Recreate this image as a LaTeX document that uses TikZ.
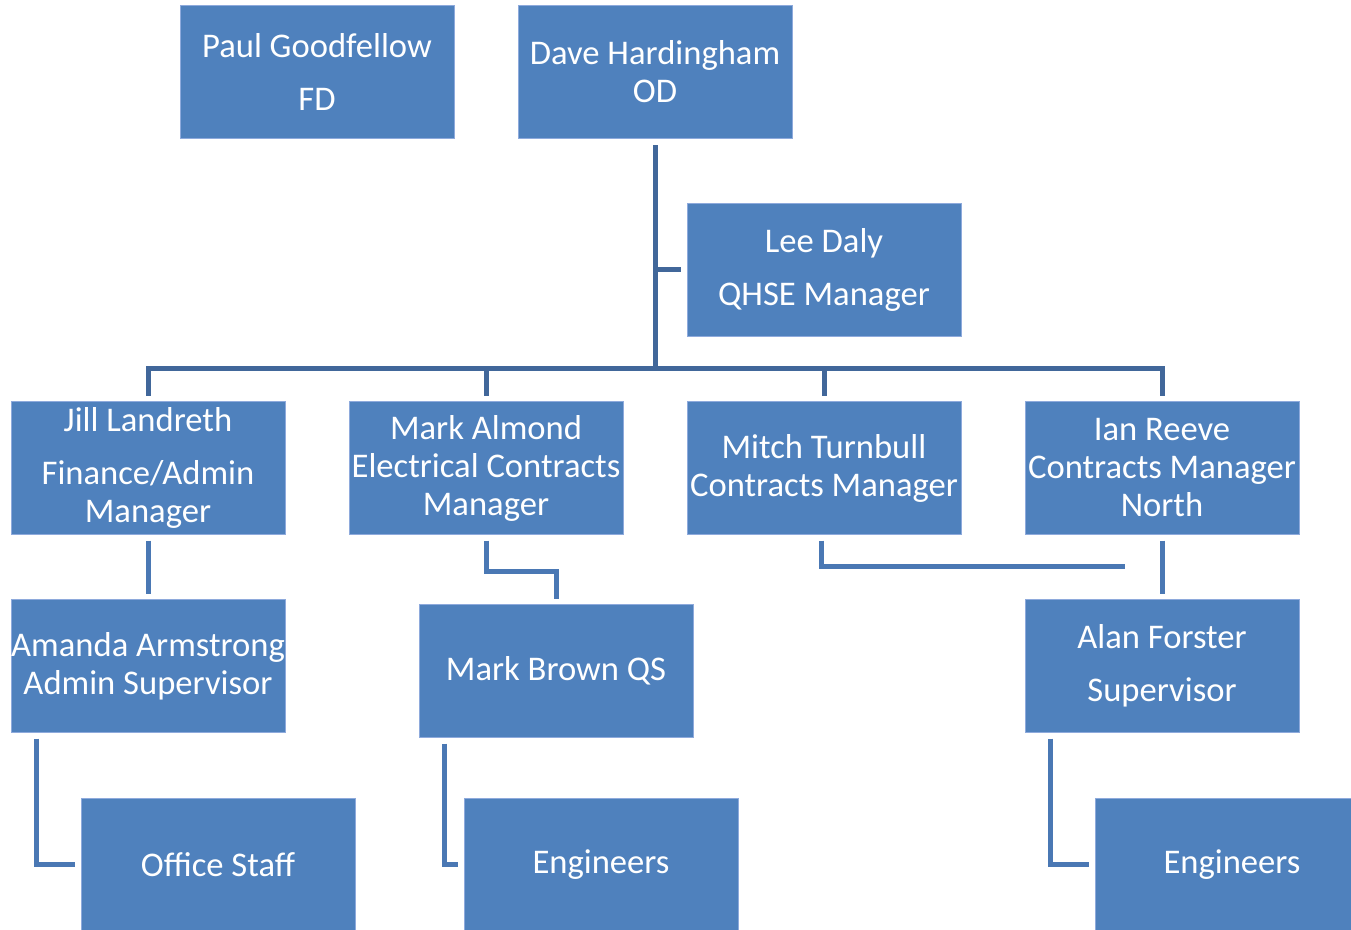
\documentclass[tikz,border=0pt]{standalone}
\usepackage{fontspec}
\setmainfont{Carlito}
\usetikzlibrary{positioning}
\definecolor{boxblue}{HTML}{4F81BD}
\definecolor{boxedge}{HTML}{8EAADC}
\definecolor{linkdark}{HTML}{41679A}
\definecolor{linklight}{HTML}{4A78B4}
\tikzset{
    person/.style = {
        rectangle,
        draw=boxedge,
        line width=0.8pt,
        fill=boxblue,
        text=white,
        minimum width=274pt,
        minimum height=133pt,
        inner sep=0pt,
        outer sep=0pt,
        align=center,
        font=\fontsize{34.6}{38}\selectfont
    },
    link/.style = {
        draw=linkdark,
        line width=5pt
    },
    sublink/.style = {
        draw=linklight,
        line width=5pt
    }
}

\begin{document}
\begin{tikzpicture}[
    x=1pt, y=-1pt,
    node distance=65pt and 64pt % grid spacing of the boxes
]
\clip (0,0) rectangle (1351,929);
\fill[white] (0,0) rectangle (1351,929);

% Directors
\node [person] (paul) at (317,71.5) {Paul Goodfellow\\[15pt]FD};
\node [person] (dave) at (655,71.5) {Dave Hardingham\\OD};
\node [person] (lee) at (824,269.5) {Lee Daly\\[15pt]QHSE Manager};

% Managers
\node [person] (jill) at (148,468) {Jill Landreth\\[15pt]Finance/Admin\\Manager};
\node [person, right=of jill] (almond) {Mark Almond\\Electrical Contracts\\Manager};
\node [person, right=of almond] (mitch) {Mitch Turnbull\\Contracts Manager};
\node [person, right=of mitch] (ian) {Ian Reeve\\Contracts Manager\\North};

% Supervisors
\node [person, below=of jill] (amanda) {Amanda Armstrong\\Admin Supervisor};
\node [person] (brown) at (556,671) {Mark Brown QS};
\node [person, below=of ian] (alan) {Alan Forster\\[15pt]Supervisor};

% Staff
\node [person] (office) at (218,864.5) {Office Staff};
\node [person] (engmid) at (601,864.5) {Engineers};
\node [person] (engright) at (1232,864.5) {Engineers};

% Top connections
\coordinate (hub) at (655,368);
\draw [link] ([yshift=-7pt]dave.south) -- (hub);
\draw [link] (dave.south |- lee.west) -- ([xshift=-6pt]lee.west);
\draw [link] ([yshift=6pt]jill.north) -- (jill.north |- hub) -- (ian.north |- hub) -- ([yshift=6pt]ian.north);
\draw [link] (almond.north |- hub) -- ([yshift=6pt]almond.north);
\draw [link] (mitch.north |- hub) -- ([yshift=6pt]mitch.north);

% Lower connections
\coordinate (mitchend) at (1125,566);
\draw [sublink] ([yshift=-6pt]jill.south) -- ([yshift=6pt]amanda.north);
\draw [sublink] ([yshift=-6pt]almond.south) -- ++(0,31) -| ([yshift=6pt]brown.north);
\draw [sublink] ([xshift=-3pt,yshift=-6pt]mitch.south) |- (mitchend);
\draw [sublink] ([yshift=-6pt]ian.south) -- ([yshift=6pt]alan.north);
\draw [sublink] ([xshift=25pt,yshift=-6pt]amanda.south west) |- ([xshift=-6pt]office.west);
\draw [sublink] ([xshift=25pt,yshift=-6pt]brown.south west) |- ([xshift=-6pt]engmid.west);
\draw [sublink] ([xshift=25pt,yshift=-6pt]alan.south west) |- ([xshift=-6pt]engright.west);

\end{tikzpicture}
\end{document}
